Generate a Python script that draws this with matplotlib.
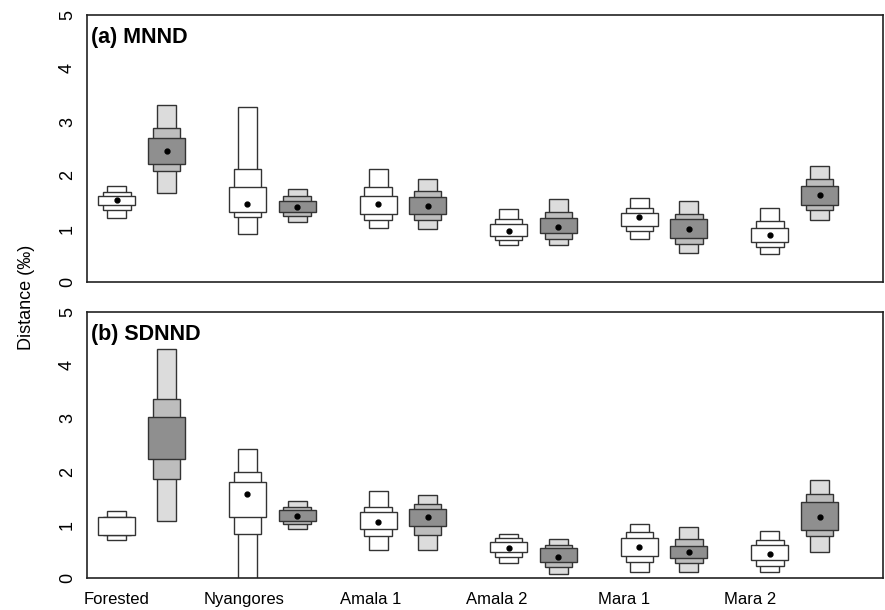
import numpy as np
import matplotlib.pyplot as plt

plt.rcParams['font.family'] = ['Liberation Sans', 'DejaVu Sans']

sites = ["Forested", "Nyangores", "Amala 1", "Amala 2", "Mara 1", "Mara 2"]

# (a) MNND - open boxes
a_open_lo95 = [1.19, 0.89, 1.02, 0.69, 0.81, 0.52]
a_open_hi95 = [1.80, 3.28, 2.11, 1.36, 1.57, 1.38]
a_open_lo75 = [1.35, 1.21, 1.17, 0.79, 0.955, 0.66]
a_open_hi75 = [1.69, 2.11, 1.77, 1.18, 1.38, 1.14]
a_open_lo50 = [1.44, 1.31, 1.27, 0.86, 1.04, 0.75]
a_open_hi50 = [1.61, 1.78, 1.61, 1.08, 1.29, 1.01]
a_open_mode = [1.535, 1.47, 1.47, 0.96, 1.21, 0.88]

# (a) MNND - shaded boxes
a_grey_lo95 = [1.66, 1.13, 0.99, 0.69, 0.55, 1.17]
a_grey_hi95 = [3.32, 1.74, 1.93, 1.55, 1.51, 2.17]
a_grey_lo75 = [2.07, 1.24, 1.16, 0.81, 0.71, 1.35]
a_grey_hi75 = [2.88, 1.61, 1.70, 1.31, 1.27, 1.93]
a_grey_lo50 = [2.21, 1.32, 1.27, 0.92, 0.82, 1.45]
a_grey_hi50 = [2.70, 1.52, 1.60, 1.19, 1.18, 1.80]
a_grey_mode = [2.45, 1.41, 1.42, 1.03, 0.99, 1.63]

# (b) SDNND - open boxes
b_open_lo95 = [0.71, -0.1, 0.53, 0.29, 0.12, 0.12]
b_open_hi95 = [1.26, 2.42, 1.64, 0.83, 1.01, 0.88]
b_open_lo75 = [0.80, 0.82, 0.79, 0.40, 0.30, 0.22]
b_open_hi75 = [1.15, 2.00, 1.33, 0.75, 0.86, 0.72]
b_open_lo50 = [0.80, 1.14, 0.92, 0.48, 0.41, 0.33]
b_open_hi50 = [1.15, 1.80, 1.24, 0.68, 0.75, 0.62]
b_open_mode = [np.nan, 1.57, 1.06, 0.56, 0.58, 0.45]

# (b) SDNND - shaded boxes
b_grey_lo95 = [1.08, 0.92, 0.53, 0.07, 0.12, 0.49]
b_grey_hi95 = [4.30, 1.45, 1.56, 0.74, 0.95, 1.84]
b_grey_lo75 = [1.86, 1.02, 0.81, 0.21, 0.28, 0.78]
b_grey_hi75 = [3.36, 1.33, 1.40, 0.62, 0.73, 1.58]
b_grey_lo50 = [2.24, 1.08, 0.98, 0.30, 0.37, 0.90]
b_grey_hi50 = [3.02, 1.27, 1.29, 0.56, 0.61, 1.42]
b_grey_mode = [np.nan, 1.17, 1.15, 0.40, 0.49, 1.14]

x = np.arange(len(sites))
offset = 0.38
widths = {95: 0.145, 75: 0.21, 50: 0.283}
open_cols = {95: "white", 75: "white", 50: "white"}
grey_cols = {95: "#dcdcdc", 75: "#bdbdbd", 50: "#8f8f8f"}
edge = "#333333"


def boxes(ax, xpos, lo95, hi95, lo75, hi75, lo50, hi50, mode, cols):
    for lev, lo, hi in [(95, lo95, hi95), (75, lo75, hi75), (50, lo50, hi50)]:
        lo = np.array(lo)
        hi = np.array(hi)
        ax.bar(xpos, hi - lo, bottom=lo, width=widths[lev], color=cols[lev],
               edgecolor=edge, linewidth=1.0, zorder=2)
    ax.plot(xpos, mode, "o", color="black", markersize=3.5, zorder=3)


fig = plt.figure(figsize=(8.85, 6.10), dpi=100)
ax1 = fig.add_axes([0.0983, 0.5377, 0.9, 0.4377])
ax2 = fig.add_axes([0.0983, 0.0525, 0.9, 0.436])

boxes(ax1, x, a_open_lo95, a_open_hi95, a_open_lo75, a_open_hi75,
      a_open_lo50, a_open_hi50, a_open_mode, open_cols)
boxes(ax1, x + offset, a_grey_lo95, a_grey_hi95, a_grey_lo75, a_grey_hi75,
      a_grey_lo50, a_grey_hi50, a_grey_mode, grey_cols)
boxes(ax2, x, b_open_lo95, b_open_hi95, b_open_lo75, b_open_hi75,
      b_open_lo50, b_open_hi50, b_open_mode, open_cols)
boxes(ax2, x + offset, b_grey_lo95, b_grey_hi95, b_grey_lo75, b_grey_hi75,
      b_grey_lo50, b_grey_hi50, b_grey_mode, grey_cols)

for ax, title in [(ax1, "(a) MNND"), (ax2, "(b) SDNND")]:
    ax.set_xlim(-0.229, 5.87)
    ax.set_ylim(0, 5)
    ax.set_yticks(range(6))
    ax.tick_params(axis="y", length=0, pad=8, labelsize=13, labelrotation=90)
    for t in ax.get_yticklabels():
        t.set_va("center")
    ax.tick_params(axis="x", length=0, labelsize=12, pad=10)
    for s in ax.spines.values():
        s.set_linewidth(1.2)
        s.set_color("#222222")
    ax.text(0.005, 0.955, title, transform=ax.transAxes, fontsize=15.5,
            fontweight="bold", va="top", ha="left")

ax1.set_xticks([])
ax2.set_xticks(x * 0.97)
ax2.set_xticklabels(sites)

fig.text(0.03, 0.513, "Distance (\u2030)", rotation=90, fontsize=13,
         va="center", ha="center")

fig.savefig("out.png", dpi=100)
